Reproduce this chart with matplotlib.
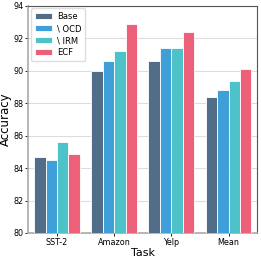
import numpy as np
import matplotlib.pyplot as plt

tasks = ["SST-2", "Amazon", "Yelp", "Mean"]
methods = ["Base", "\\ OCD", "\\ IRM", "ECF"]
base = [84.7, 90.0, 90.6, 88.4]
ocd = [84.5, 90.6, 91.4, 88.8]
irm = [85.6, 91.2, 91.4, 89.4]
ecf = [84.9, 92.9, 92.4, 90.1]
colors = ["#526d88", "#3f9fd9", "#4dc2c8", "#ec6079"]

fig, ax = plt.subplots(figsize=(2.61, 2.60), dpi=100)
x = np.arange(len(tasks))
w = 0.2
for i, (vals, name) in enumerate(zip([base, ocd, irm, ecf], methods)):
    ax.bar(x + (i - 1.5) * w, vals, w, color=colors[i], edgecolor="white",
           linewidth=0.6, label=name, zorder=3)

ax.set_ylim(80, 94)
ax.set_xlim(-0.5, 3.5)
ax.set_yticks([80, 82, 84, 86, 88, 90, 92, 94])
ax.set_xticks(x)
ax.set_xticklabels(tasks)
ax.tick_params(labelsize=5.8, length=2, width=0.6, pad=1.5)
ax.grid(axis="y", color="#dddddd", linewidth=0.8, zorder=0)
ax.set_xlabel("Task", fontsize=8, labelpad=1)
ax.set_ylabel("Accuracy", fontsize=8.5, labelpad=1)
for s in ["top", "right"]:
    ax.spines[s].set_color("#555555")
    ax.spines[s].set_linewidth(0.8)
for s in ["left", "bottom"]:
    ax.spines[s].set_color("#aaaaaa")
    ax.spines[s].set_linewidth(1.2)
ax.legend(fontsize=6, loc="upper left", framealpha=1, edgecolor="#dddddd",
          handlelength=2.1, handleheight=0.7, handletextpad=0.6,
          borderpad=0.45, labelspacing=0.35, borderaxespad=0.3)

fig.subplots_adjust(left=0.109, right=0.985, top=0.977, bottom=0.104)
fig.savefig("out.png")
